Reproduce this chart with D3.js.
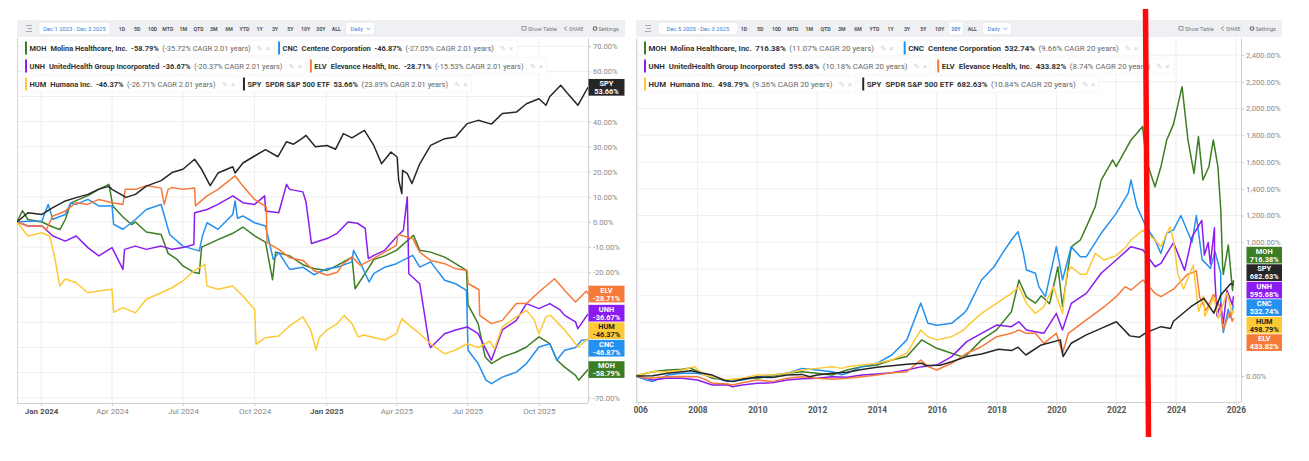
<!DOCTYPE html>
<html>
<head>
<meta charset="utf-8">
<script src="https://cdn.jsdelivr.net/npm/d3@7/dist/d3.min.js"></script>
<style>
  body { margin: 0; background: #fff; }
  svg { display: block; font-family: Roboto, "Noto Sans", sans-serif; }
</style>
</head>
<body>
<svg id="chart"></svg>
<script>
// ---------- data ----------
var tickers = ['MOH', 'CNC', 'UNH', 'ELV', 'HUM', 'SPY'];
var names = ['Molina Healthcare, Inc.', 'Centene Corporation', 'UnitedHealth Group Incorporated',
  'Elevance Health, Inc.', 'Humana Inc.', 'SPDR S&P 500 ETF'];

var shortTotals = [-58.79, -46.87, -36.67, -28.71, -46.37, 53.66];
var shortCagr = [-35.72, -27.05, -20.37, -15.53, -26.71, 23.89];
var longTotals = [716.38, 532.74, 595.68, 433.82, 498.79, 682.63];
var longCagr = [11.07, 9.66, 10.18, 8.74, 9.36, 10.84];

var shortXTicks = ['2024-01-01', '2024-04-01', '2024-07-01', '2024-10-01',
  '2025-01-01', '2025-04-01', '2025-07-01', '2025-10-01'];
var longXTicks = ['2006-01-01', '2008-01-01', '2010-01-01', '2012-01-01', '2014-01-01', '2016-01-01',
  '2018-01-01', '2020-01-01', '2022-01-01', '2024-01-01', '2026-01-01'];
var shortYTicks = [70, 60, 50, 40, 30, 20, 10, 0, -10, -20, -30, -40, -50, -60, -70];
var longYTicks = [0, 200, 400, 600, 800, 1000, 1200, 1400, 1600, 1800, 2000, 2200, 2400];
var rangeButtons = ['1D', '5D', '10D', 'MTD', '1M', 'QTD', '3M', '6M', 'YTD', '1Y', '3Y', '5Y', '10Y', '20Y', 'ALL'];

// 2 year window, % change since Dec 1 2023
var shortMOH = [['2023-12-01',0],['2023-12-08',4.5],['2023-12-15',1],['2024-01-02',0],['2024-01-16',-2],['2024-01-25',-3],
  ['2024-02-01',1],['2024-02-08',7.5],['2024-02-15',8.5],['2024-03-01',10.5],['2024-03-15',13],['2024-03-28',15],
  ['2024-04-02',6.4],['2024-04-15',2],['2024-04-26',-1],['2024-05-01',0],['2024-05-15',-4],['2024-06-03',-5],
  ['2024-06-12',-12.5],['2024-06-24',-15],['2024-07-01',-17.5],['2024-07-15',-20],['2024-07-22',-20.5],
  ['2024-07-25',-10],['2024-08-01',-9],['2024-08-15',-7],['2024-09-03',-4.5],['2024-09-16',-2],['2024-10-01',-5.5],
  ['2024-10-15',-8],['2024-10-24',-23],['2024-10-28',-12],['2024-11-15',-13.5],['2024-12-02',-17],['2024-12-16',-18.5],
  ['2025-01-02',-19.3],['2025-01-15',-17.3],['2025-02-03',-14],['2025-02-07',-26.6],['2025-02-21',-20],
  ['2025-03-03',-15],['2025-03-17',-13.5],['2025-04-01',-11.3],['2025-04-23',-5.3],['2025-05-01',-11.3],
  ['2025-05-15',-12],['2025-06-02',-14],['2025-06-16',-16.6],['2025-06-30',-19.3],['2025-07-02',-33],
  ['2025-07-15',-40.5],['2025-07-24',-53.8],['2025-08-01',-56.4],['2025-08-15',-53.8],['2025-09-02',-51.8],
  ['2025-09-15',-49.8],['2025-10-01',-45.8],['2025-10-15',-48.5],['2025-10-24',-55],['2025-11-03',-57.8],
  ['2025-11-17',-61.1],['2025-11-21',-63],['2025-12-03',-58.79]];
var shortCNC = [['2023-12-01',0],['2023-12-15',0.3],['2024-01-02',0.4],['2024-01-10',7],['2024-01-16',1.1],
  ['2024-02-01',3],['2024-02-08',7.6],['2024-02-15',7],['2024-03-01',9],['2024-03-15',6.4],['2024-04-01',6.4],
  ['2024-04-03',-0.9],['2024-04-15',-2.9],['2024-05-01',1],['2024-05-15',5],['2024-06-03',7],['2024-06-14',-5],
  ['2024-07-01',-9.6],['2024-07-15',-10.9],['2024-07-22',-11.5],['2024-07-26',-5.6],['2024-08-01',-0.3],
  ['2024-08-15',-2.9],['2024-09-03',3],['2024-09-06',8.4],['2024-09-09',1.5],['2024-09-16',2.4],['2024-10-01',-0.3],
  ['2024-10-15',-1.6],['2024-10-25',-14.9],['2024-11-01',-12.2],['2024-11-15',-18.9],['2024-12-02',-18],
  ['2024-12-16',-21],['2025-01-02',-18.6],['2025-01-15',-18],['2025-02-03',-15.9],['2025-02-05',-11.3],
  ['2025-02-14',-16.5],['2025-02-25',-23.9],['2025-03-03',-20.6],['2025-03-17',-18],['2025-04-01',-16.6],
  ['2025-04-22',-13.3],['2025-05-01',-18],['2025-05-15',-15.9],['2025-06-02',-23.2],['2025-06-16',-24.6],
  ['2025-06-30',-27.2],['2025-07-02',-51.1],['2025-07-15',-56.4],['2025-07-25',-63],['2025-08-01',-64.4],
  ['2025-08-15',-61.8],['2025-09-02',-59.8],['2025-09-15',-56.4],['2025-10-01',-49.8],['2025-10-15',-48.5],
  ['2025-10-24',-55],['2025-11-03',-51.1],['2025-11-17',-50],['2025-11-25',-47.1],['2025-12-03',-46.87]];
var shortUNH = [['2023-12-01',0],['2023-12-15',-1.6],['2024-01-02',-1.6],['2024-01-16',-5.6],['2024-02-01',-7.6],
  ['2024-02-15',-5.6],['2024-03-01',-10.2],['2024-03-15',-13.5],['2024-04-01',-10.2],['2024-04-15',-18.9],
  ['2024-04-17',-10.9],['2024-05-01',-9.6],['2024-05-15',-10.9],['2024-06-03',-9.6],['2024-06-17',-10.9],
  ['2024-07-01',-10.2],['2024-07-15',-9],['2024-07-16',3.7],['2024-08-01',5],['2024-08-15',7],['2024-09-03',10.4],
  ['2024-09-16',7.7],['2024-10-01',7],['2024-10-14',10.4],['2024-10-15',4.4],['2024-11-01',3.7],['2024-11-11',15],
  ['2024-11-15',13],['2024-12-02',12],['2024-12-06',8],['2024-12-13',-8.6],['2025-01-02',-6.6],['2025-01-15',-4.5],
  ['2025-01-29',0],['2025-02-10',-0.5],['2025-02-20',-2.5],['2025-02-24',-14.6],['2025-03-03',-13.3],
  ['2025-03-17',-11.3],['2025-04-01',-6],['2025-04-10',-3.3],['2025-04-15',10],['2025-04-17',-20.6],
  ['2025-05-01',-24.6],['2025-05-13',-48.5],['2025-05-15',-50],['2025-06-02',-44.5],['2025-06-16',-43],
  ['2025-07-01',-41.8],['2025-07-15',-44.5],['2025-08-01',-55.1],['2025-08-15',-43],['2025-09-02',-39.2],
  ['2025-09-15',-32.5],['2025-10-01',-34.5],['2025-10-15',-32.5],['2025-10-28',-35],['2025-11-03',-37.2],
  ['2025-11-17',-39.8],['2025-11-20',-42.5],['2025-12-03',-36.67]];
var shortELV = [['2023-12-01',0],['2023-12-15',-1.6],['2024-01-02',-1.6],['2024-01-08',-2.9],['2024-01-16',2.4],
  ['2024-01-24',3.3],['2024-02-01',4.4],['2024-02-15',7.7],['2024-03-01',7],['2024-03-15',9],['2024-04-01',7.7],
  ['2024-04-15',7],['2024-04-18',13],['2024-05-01',13],['2024-05-15',14.5],['2024-06-03',13.5],['2024-06-07',7],
  ['2024-06-12',13],['2024-06-17',13.7],['2024-07-01',13],['2024-07-16',13.5],['2024-07-17',6.4],['2024-08-01',10.4],
  ['2024-08-15',13],['2024-09-03',17.7],['2024-09-06',18.4],['2024-09-16',14.3],['2024-10-01',9],['2024-10-16',6],
  ['2024-10-17',-8.2],['2024-11-01',-10.9],['2024-11-15',-14.2],['2024-12-02',-15.3],['2024-12-16',-19.3],
  ['2025-01-02',-21.2],['2025-01-15',-20],['2025-01-23',-16.6],['2025-02-03',-14],['2025-02-14',-17.3],
  ['2025-03-03',-14.5],['2025-03-17',-12],['2025-04-01',-9.3],['2025-04-03',-5],['2025-04-22',-6.6],
  ['2025-05-01',-12],['2025-05-15',-15.3],['2025-06-02',-16.6],['2025-06-16',-18.6],['2025-07-01',-19.3],
  ['2025-07-02',-24.5],['2025-07-16',-27],['2025-07-17',-37.2],['2025-08-01',-40.5],['2025-08-15',-39.2],
  ['2025-09-02',-32.5],['2025-09-15',-32.5],['2025-10-01',-27.9],['2025-10-21',-22.6],['2025-11-03',-27.2],
  ['2025-11-17',-31.9],['2025-12-01',-27.5],['2025-12-03',-28.71]];
var shortHUM = [['2023-12-01',0],['2023-12-15',-5.6],['2024-01-02',-4.3],['2024-01-12',-5.6],['2024-01-18',-13.5],
  ['2024-01-25',-25.5],['2024-02-01',-22.7],['2024-02-15',-24.2],['2024-03-01',-28.2],['2024-03-15',-27.5],
  ['2024-04-01',-26.8],['2024-04-03',-36],['2024-04-15',-34.1],['2024-05-01',-36.2],['2024-05-15',-30.8],
  ['2024-06-03',-28.2],['2024-06-17',-26.2],['2024-07-01',-23.5],['2024-07-15',-19.5],['2024-07-29',-16.9],
  ['2024-08-01',-25.5],['2024-08-15',-26.8],['2024-09-03',-25.5],['2024-09-16',-29.5],['2024-10-01',-34.8],
  ['2024-10-03',-48.7],['2024-10-15',-46.1],['2024-11-01',-45.4],['2024-11-15',-41.4],['2024-12-02',-37.8],
  ['2024-12-12',-43],['2024-12-19',-51],['2024-12-23',-46],['2025-01-02',-43],['2025-01-15',-40.5],
  ['2025-01-24',-37.2],['2025-02-03',-40.5],['2025-02-11',-45.8],['2025-02-18',-45],['2025-03-03',-46],
  ['2025-03-17',-47],['2025-04-01',-44.5],['2025-04-08',-38.5],['2025-04-15',-40.5],['2025-05-01',-44.5],
  ['2025-05-15',-48.5],['2025-06-02',-52.5],['2025-06-16',-51],['2025-07-01',-48.5],['2025-07-15',-50],
  ['2025-07-30',-47.5],['2025-08-05',-50.5],['2025-08-15',-41.8],['2025-09-02',-37.8],['2025-09-15',-35.2],
  ['2025-09-25',-39],['2025-10-01',-44.5],['2025-10-10',-37.8],['2025-10-16',-37.2],['2025-11-03',-43],
  ['2025-11-17',-48.5],['2025-11-21',-49.8],['2025-12-03',-46.37]];
var shortSPY = [['2023-12-01',0],['2023-12-15',3.7],['2024-01-02',3],['2024-01-16',5.7],['2024-02-01',8.4],
  ['2024-02-15',9.7],['2024-03-01',11],['2024-03-15',13.1],['2024-03-28',14.2],['2024-04-01',13],['2024-04-19',9.8],
  ['2024-05-01',11],['2024-05-15',14.3],['2024-06-03',16.5],['2024-06-17',19.7],['2024-07-01',21],['2024-07-16',25],
  ['2024-07-25',21],['2024-08-05',14.5],['2024-08-15',19.5],['2024-09-03',22],['2024-09-06',19.5],['2024-09-16',23.5],
  ['2024-10-01',26.3],['2024-10-15',28.8],['2024-10-31',26],['2024-11-11',32],['2024-11-20',31],['2024-12-02',33.5],
  ['2024-12-06',34.5],['2024-12-18',30],['2025-01-02',30.5],['2025-01-13',29],['2025-01-23',35.2],['2025-02-03',33.5],
  ['2025-02-19',36.5],['2025-03-03',30.5],['2025-03-13',23.2],['2025-03-25',27.9],['2025-04-02',25.9],
  ['2025-04-04',16.6],['2025-04-08',11.3],['2025-04-09',20.6],['2025-04-15',19.3],['2025-04-21',15.3],
  ['2025-05-01',23.2],['2025-05-15',30.5],['2025-06-02',33.2],['2025-06-16',33.9],['2025-07-01',39.2],
  ['2025-07-15',40.5],['2025-08-01',39],['2025-08-15',43.2],['2025-09-02',43.8],['2025-09-15',47.1],
  ['2025-10-01',49.1],['2025-10-10',46.5],['2025-10-15',50],['2025-10-29',54.5],['2025-11-06',51.5],
  ['2025-11-20',46.5],['2025-12-03',53.66]];

// 20 year window, % change since Dec 5 2005
var longMOH = [['2005-12-05',0],['2006-07-01',32],['2007-01-01',45],['2007-07-01',50],['2007-10-01',60],
  ['2008-07-01',-17],['2009-01-01',-30],['2009-07-01',-20],['2010-01-01',-17],['2010-07-01',0],['2011-01-01',20],
  ['2011-07-01',32],['2012-01-01',20],['2012-07-01',7],['2013-01-01',45],['2013-07-01',70],['2014-01-01',82],
  ['2014-07-01',120],['2015-01-01',145],['2015-07-01',270],['2016-01-01',207],['2016-07-01',170],['2016-11-01',145],
  ['2017-01-01',157],['2017-07-01',270],['2018-01-01',345],['2018-07-01',480],['2018-10-01',718],['2019-01-01',590],
  ['2019-04-20',545],['2019-07-01',600],['2019-10-10',540],['2020-01-20',817],['2020-03-16',520],['2020-07-01',965],
  ['2020-10-20',1017],['2021-01-01',1115],['2021-04-20',1265],['2021-07-01',1465],['2021-11-20',1615],
  ['2022-01-01',1565],['2022-07-01',1765],['2022-11-20',1865],['2023-01-01',1615],['2023-04-20',1415],
  ['2023-07-01',1565],['2023-09-10',1765],['2023-12-01',1881],['2024-03-15',2163],['2024-05-26',1765],
  ['2024-08-08',1515],['2024-10-01',1790],['2024-11-25',1465],['2025-02-06',1565],['2025-04-01',1765],
  ['2025-05-27',1565],['2025-07-02',1230],['2025-07-24',810],['2025-08-01',760],['2025-10-01',980],
  ['2025-11-21',640],['2025-12-03',716.38]];
var longCNC = [['2005-12-05',0],['2006-04-20',-30],['2006-07-01',-42],['2007-01-01',7],['2007-07-01',20],
  ['2008-01-01',20],['2008-07-01',-5],['2009-01-01',-42],['2009-07-01',-30],['2010-01-01',-5],['2011-01-01',20],
  ['2011-07-01',57],['2012-01-01',45],['2012-07-01',32],['2012-10-25',10],['2013-01-01',20],['2013-07-01',70],
  ['2014-01-01',95],['2014-07-01',157],['2015-01-01',270],['2015-06-20',545],['2015-09-15',395],['2016-01-01',380],
  ['2016-07-01',394],['2016-11-25',468],['2017-01-01',493],['2017-07-01',718],['2017-12-01',817],['2018-03-14',917],
  ['2018-07-01',1017],['2018-09-20',1079],['2018-11-25',917],['2019-01-01',793],['2019-04-20',768],
  ['2019-06-01',668],['2019-08-20',593],['2020-01-01',967],['2020-03-16',718],['2020-07-01',967],['2020-10-20',892],
  ['2021-01-01',892],['2021-07-01',1067],['2022-01-01',1216],['2022-05-27',1366],['2022-07-01',1465],
  ['2022-09-10',1266],['2023-01-01',1116],['2023-04-20',1017],['2023-07-01',917],['2023-09-10',1067],
  ['2023-12-01',1091],['2024-03-01',1200],['2024-07-15',1000],['2024-09-06',1200],['2024-11-15',870],
  ['2025-02-25',805],['2025-04-22',930],['2025-06-30',770],['2025-07-02',480],['2025-08-01',325],
  ['2025-10-01',500],['2025-10-24',435],['2025-12-03',532.74]];
var longUNH = [['2005-12-05',0],['2006-04-20',-17],['2006-07-01',-30],['2007-01-01',-15],['2007-07-01',-17],
  ['2008-01-01',-30],['2008-07-01',-67],['2009-01-01',-65],['2009-03-06',-80],['2009-07-01',-67],['2010-01-01',-55],
  ['2010-07-01',-50],['2011-01-01',-30],['2011-07-01',-20],['2012-01-01',-17],['2012-07-01',-5],['2013-01-01',-10],
  ['2013-07-01',7],['2014-01-01',15],['2014-07-01',25],['2015-01-01',45],['2015-07-01',70],['2016-01-01',82],
  ['2016-07-01',145],['2017-01-01',257],['2017-07-01',319],['2018-01-01',381],['2018-07-01',369],['2018-10-01',406],
  ['2019-01-01',344],['2019-04-20',331],['2019-08-01',319],['2020-01-01',468],['2020-03-16',344],['2020-07-01',543],
  ['2021-01-01',618],['2021-07-01',768],['2022-01-01',867],['2022-07-01',967],['2022-11-25',942],['2023-04-20',817],
  ['2023-07-01',842],['2023-12-01',998],['2024-04-15',790],['2024-07-16',1040],['2024-11-11',1163],
  ['2024-12-13',904],['2025-01-29',998],['2025-02-24',838],['2025-04-15',1108],['2025-04-17',772],
  ['2025-05-15',449],['2025-07-01',540],['2025-08-01',393],['2025-09-15',641],['2025-11-20',531],['2025-12-03',595.68]];
var longELV = [['2005-12-05',0],['2006-04-20',-17],['2007-01-01',-5],['2007-07-01',-3],['2008-01-01',-5],
  ['2008-04-20',-30],['2008-07-01',-55],['2009-01-01',-60],['2009-03-06',-67],['2009-07-01',-50],['2010-01-01',-30],
  ['2010-07-01',-42],['2011-01-01',-17],['2011-07-01',-5],['2012-01-01',-17],['2012-07-01',-25],['2013-01-01',-17],
  ['2013-07-01',-5],['2014-01-01',7],['2014-07-01',25],['2015-01-01',32],['2015-06-20',120],['2015-09-15',70],
  ['2016-01-01',45],['2016-07-01',95],['2017-01-01',170],['2017-07-01',219],['2018-01-01',294],['2018-07-01',319],
  ['2018-10-01',344],['2019-01-01',319],['2019-04-20',319],['2019-08-01',244],['2020-01-01',319],['2020-03-16',170],
  ['2020-05-27',319],['2020-09-13',369],['2021-01-01',419],['2021-04-20',468],['2021-08-08',518],['2022-01-01',593],
  ['2022-04-20',668],['2022-07-01',643],['2022-11-25',718],['2023-04-20',618],['2023-07-01',593],['2023-12-01',649],
  ['2024-05-15',757],['2024-09-06',786],['2024-10-17',587],['2025-01-02',490],['2025-04-03',611],['2025-07-01',504],
  ['2025-08-01',345],['2025-10-21',480],['2025-11-17',410],['2025-12-03',433.82]];
var longHUM = [['2005-12-05',0],['2006-04-20',20],['2006-07-01',32],['2007-01-01',32],['2007-07-01',45],
  ['2007-11-25',70],['2008-03-14',7],['2008-07-01',-5],['2009-01-01',-30],['2009-07-01',-17],['2010-01-01',7],
  ['2010-07-01',7],['2011-01-01',20],['2011-07-01',45],['2012-01-01',57],['2012-07-01',70],['2012-11-01',57],
  ['2013-01-01',70],['2013-07-01',82],['2014-01-01',95],['2014-07-01',120],['2015-01-01',170],['2015-06-20',344],
  ['2015-09-15',294],['2016-01-01',270],['2016-07-01',294],['2016-11-25',344],['2017-01-01',369],['2017-07-01',468],
  ['2018-01-01',543],['2018-07-01',618],['2018-10-01',668],['2019-01-01',543],['2019-04-20',468],['2019-08-01',518],
  ['2019-11-25',668],['2020-03-16',468],['2020-05-08',768],['2020-07-01',817],['2020-10-20',760],['2021-01-01',760],
  ['2021-04-20',917],['2021-08-08',867],['2022-01-01',900],['2022-04-20',960],['2022-07-01',1017],['2022-11-25',1091],
  ['2023-04-20',1017],['2023-07-01',967],['2023-10-20',1116],['2023-12-01',1017],['2024-01-25',760],
  ['2024-04-03',650],['2024-07-29',828],['2024-10-03',480],['2024-12-02',594],['2024-12-19',447],['2025-04-08',587],
  ['2025-06-02',430],['2025-09-15',623],['2025-11-21',460],['2025-12-03',498.79]];
var longSPY = [['2005-12-05',0],['2006-07-01',2],['2007-01-01',20],['2007-07-01',32],['2007-10-09',40],
  ['2008-07-01',7],['2008-11-20',-32],['2009-03-09',-42],['2009-07-01',-25],['2010-01-01',-8],['2010-07-01',-12],
  ['2011-01-01',7],['2011-07-01',12],['2011-10-03',-5],['2012-01-01',8],['2012-07-01',20],['2013-01-01',28],
  ['2013-07-01',48],['2014-01-01',65],['2014-07-01',77],['2015-01-01',87],['2015-07-01',95],['2015-08-25',78],
  ['2016-02-11',80],['2016-07-01',107],['2017-01-01',145],['2017-07-01',165],['2018-01-26',200],['2018-07-01',190],
  ['2018-09-20',215],['2018-12-24',157],['2019-07-01',232],['2020-02-19',270],['2020-03-23',145],['2020-07-01',245],
  ['2021-01-01',307],['2021-07-01',356],['2022-01-03',406],['2022-06-16',300],['2022-10-12',290],['2023-01-01',324],
  ['2023-07-01',369],['2023-10-27',355],['2023-12-01',409],['2024-07-01',518],['2024-12-06',581],['2025-04-08',470],
  ['2025-07-01',605],['2025-10-29',690],['2025-12-03',682.63]];

// ---------- styles ----------
var colors = { MOH: '#3d7d24', CNC: '#2490ef', UNH: '#8a1cef', ELV: '#f67a3a', HUM: '#fdc936', SPY: '#262626' };
var labelText = { HUM: '#1e1e1e' };

var parse = d3.timeParse('%Y-%m-%d');
var W = 1309, H = 461;
var svg = d3.select('#chart').attr('width', W).attr('height', H);

var fmtShort = function(d) { return d.toFixed(2) + '%'; };
var fmtLong = function(d) { return d3.format(',.2f')(d) + '%'; };

var panels = [
  {
    id: 'short', left: 17, right: 625, plotRight: 588, top: 38, bottom: 403,
    x: d3.scaleTime().domain([parse('2023-12-01'), parse('2025-12-03')]).range([17, 588]),
    y: d3.scaleLinear().domain([-70, 70]).range([397.7, 46.3]),
    series: [shortMOH, shortCNC, shortUNH, shortELV, shortHUM, shortSPY],
    totals: shortTotals, cagr: shortCagr, span: '2.01 years', fmt: fmtShort,
    xTicks: shortXTicks, xFormat: d3.timeFormat('%b %Y'), yTicks: shortYTicks,
    range: 'Dec 1 2023 - Dec 3 2025', active: null, btn0: 122, btnStep: 15.3,
    tagX: 0.5, tagW: 36, legendFont: 7.45, legendGap: 27
  },
  {
    id: 'long', left: 636, right: 1282, plotRight: 1241, top: 38, bottom: 402,
    x: d3.scaleTime().domain([parse('2005-12-05'), parse('2026-03-05')]).range([635.5, 1241]),
    y: d3.scaleLinear().domain([0, 2400]).range([376, 55]),
    series: [longMOH, longCNC, longUNH, longELV, longHUM, longSPY],
    totals: longTotals, cagr: longCagr, span: '20 years', fmt: fmtLong,
    xTicks: longXTicks, xFormat: d3.timeFormat('%Y'), yTicks: longYTicks,
    range: 'Dec 5 2005 - Dec 3 2025', active: '20Y', btn0: 744, btnStep: 16.3,
    tagX: 5.5, tagW: 35.5, legendFont: 7.85, legendGap: 29.5
  }
];

panels.forEach(drawPanel);

function drawPanel(p) {
  var g = svg.append('g').attr('class', 'panel-' + p.id);

  g.append('clipPath').attr('id', 'clip-' + p.id)
    .append('rect').attr('x', p.left).attr('y', p.top).attr('width', p.plotRight - p.left).attr('height', p.bottom - p.top);
  g.append('clipPath').attr('id', 'panelclip-' + p.id)
    .append('rect').attr('x', p.left - 2).attr('y', 0).attr('width', p.right - p.left + 8).attr('height', H);

  var body = g.append('g').attr('clip-path', 'url(#panelclip-' + p.id + ')');

  // gridlines
  body.append('g').selectAll('line').data(p.yTicks).enter().append('line')
    .attr('x1', p.left).attr('x2', p.plotRight)
    .attr('y1', function(d) { return p.y(d); }).attr('y2', function(d) { return p.y(d); })
    .attr('stroke', '#eeeeee').attr('stroke-width', 1);
  body.append('g').selectAll('line').data(p.xTicks).enter().append('line')
    .attr('x1', function(d) { return p.x(parse(d)); }).attr('x2', function(d) { return p.x(parse(d)); })
    .attr('y1', p.top).attr('y2', p.bottom)
    .attr('stroke', '#eeeeee').attr('stroke-width', 1);

  // axis frame lines
  body.append('line').attr('x1', p.left + 0.5).attr('x2', p.left + 0.5).attr('y1', p.top).attr('y2', p.bottom)
    .attr('stroke', '#d8d8d8');
  body.append('line').attr('x1', p.left).attr('x2', p.plotRight).attr('y1', p.bottom + 0.5).attr('y2', p.bottom + 0.5)
    .attr('stroke', '#cfcfcf');
  body.append('line').attr('x1', p.plotRight + 0.5).attr('x2', p.plotRight + 0.5).attr('y1', p.top).attr('y2', p.bottom)
    .attr('stroke', '#cfcfcf');

  // x axis
  var xAxis = d3.axisBottom(p.x)
    .tickValues(p.xTicks.map(parse))
    .tickFormat(p.xFormat)
    .tickSize(3).tickPadding(2);
  var xg = body.append('g').attr('transform', 'translate(0,' + p.bottom + ')').call(xAxis);
  xg.select('.domain').remove();
  xg.selectAll('line').attr('stroke', '#cfcfcf');
  xg.selectAll('text')
    .attr('font-family', 'Roboto, sans-serif')
    .attr('font-size', p.id === 'short' ? 8 : 8.4)
    .attr('fill', function(d) { return (p.id === 'long' || d.getMonth() === 0) ? '#555' : '#888'; })
    .attr('font-weight', function(d) { return (p.id === 'long' || d.getMonth() === 0) ? 700 : 400; });

  // series lines
  var line = d3.line()
    .x(function(d) { return p.x(parse(d[0])); })
    .y(function(d) { return p.y(d[1]); });
  var lines = body.append('g').attr('clip-path', 'url(#clip-' + p.id + ')');
  p.series.forEach(function(s, i) {
    lines.append('path').datum(s)
      .attr('d', line)
      .attr('fill', 'none')
      .attr('stroke', colors[tickers[i]])
      .attr('stroke-width', 1.5)
      .attr('stroke-linejoin', 'round');
  });

  // end-of-line value tags, pushed apart where they collide
  var tagH = 17.5;
  var tags = p.series.map(function(s, i) {
    return { i: i, y: p.y(s[s.length - 1][1]) };
  });
  spreadTags(tags, tagH);

  // y axis on the right; labels hidden behind a tag are left out
  var covered = function(v) {
    var yy = p.y(v);
    return tags.some(function(t) { return Math.abs(yy - t.ly) < tagH / 2 + 3; });
  };
  var yAxis = d3.axisRight(p.y).tickValues(p.yTicks.filter(function(v) { return !covered(v); }))
    .tickFormat(p.fmt).tickSize(3).tickPadding(2);
  var yg = body.append('g').attr('transform', 'translate(' + p.plotRight + ',0)').call(yAxis);
  yg.select('.domain').remove();
  yg.selectAll('line').attr('stroke', '#cccccc');
  yg.selectAll('text').attr('font-family', 'Roboto, sans-serif').attr('font-size', 7.6).attr('fill', '#8a8a8a');

  var tg = body.append('g');
  tags.forEach(function(t) {
    var tk = tickers[t.i];
    var gg = tg.append('g').attr('transform', 'translate(' + (p.plotRight + p.tagX) + ',' + t.ly + ')');
    gg.append('rect').attr('x', 0).attr('y', -tagH / 2 + 0.4).attr('width', p.tagW).attr('height', tagH - 0.8)
      .attr('fill', colors[tk]);
    var txt = gg.append('text').attr('text-anchor', 'middle').attr('font-size', 7.4).attr('font-weight', 700)
      .attr('fill', labelText[tk] || '#fff');
    txt.append('tspan').attr('x', p.tagW / 2).attr('y', -1.3).text(tk);
    txt.append('tspan').attr('x', p.tagW / 2).attr('y', 6.6).text(p.fmt(p.totals[t.i]));
  });

  drawToolbar(g, p);
  drawLegend(g, p);
}

function spreadTags(tags, h) {
  tags.sort(function(a, b) { return a.y - b.y; });
  var groups = tags.map(function(t) { return { members: [t], y: t.y }; });
  var merged = true;
  while (merged) {
    merged = false;
    for (var k = 0; k < groups.length - 1; k++) {
      var a = groups[k], b = groups[k + 1];
      if (a.y + a.members.length * h / 2 > b.y - b.members.length * h / 2) {
        var members = a.members.concat(b.members);
        groups.splice(k, 2, { members: members, y: d3.mean(members, function(m) { return m.y; }) });
        merged = true;
        break;
      }
    }
  }
  groups.forEach(function(gr) {
    var top = gr.y - gr.members.length * h / 2;
    gr.members.forEach(function(m, j) { m.ly = top + j * h + h / 2; });
  });
}

function drawToolbar(g, p) {
  var tb = g.append('g');
  var y0 = 20, h = 17, cy = y0 + h / 2;
  tb.append('rect').attr('x', p.left).attr('y', y0).attr('width', p.right - p.left).attr('height', h)
    .attr('fill', '#eef0f3');

  // collapse icon
  var ix = p.left + 9;
  [-3, 0, 3].forEach(function(dy, k) {
    tb.append('line').attr('x1', ix + (k === 1 ? 1.5 : 0)).attr('x2', ix + 6).attr('y1', cy + dy).attr('y2', cy + dy)
      .attr('stroke', '#999').attr('stroke-width', 0.8);
  });

  // date range box
  var rx = p.left + 22, rw = p.id === 'short' ? 71 : 80;
  tb.append('rect').attr('x', rx).attr('y', y0 + 2.5).attr('width', rw).attr('height', h - 5)
    .attr('fill', '#fff').attr('stroke', '#dde2ea').attr('stroke-width', 0.6).attr('rx', 1.5);
  tb.append('text').attr('x', rx + rw / 2).attr('y', cy + 2).attr('text-anchor', 'middle')
    .attr('font-size', 5.8).attr('fill', '#3b7fd9').text(p.range);

  // range buttons
  rangeButtons.forEach(function(b, k) {
    var bx = p.btn0 + k * p.btnStep;
    if (b === p.active) {
      tb.append('rect').attr('x', bx - 6.5).attr('y', y0 + 2.5).attr('width', 13).attr('height', h - 5)
        .attr('fill', '#fff').attr('rx', 1.5);
    }
    tb.append('text').attr('x', bx).attr('y', cy + 2).attr('text-anchor', 'middle')
      .attr('font-size', 5.2).attr('font-weight', 700)
      .attr('fill', b === p.active ? '#3b7fd9' : '#555').text(b);
  });

  // interval dropdown
  var dx = p.btn0 + rangeButtons.length * p.btnStep - 6;
  tb.append('rect').attr('x', dx).attr('y', y0 + 2.5).attr('width', 29).attr('height', h - 5)
    .attr('fill', '#fff').attr('stroke', '#dde2ea').attr('stroke-width', 0.6).attr('rx', 1.5);
  tb.append('text').attr('x', dx + 5).attr('y', cy + 2).attr('font-size', 5.8).attr('fill', '#3b7fd9').text('Daily');
  tb.append('path').attr('d', 'M' + (dx + 21) + ',' + (cy - 0.8) + 'l2,2l2,-2')
    .attr('fill', 'none').attr('stroke', '#3b7fd9').attr('stroke-width', 0.7);

  // right hand actions
  var ax = p.right - 103;
  tb.append('rect').attr('x', ax).attr('y', cy - 2).attr('width', 4).attr('height', 3.6)
    .attr('fill', 'none').attr('stroke', '#777').attr('stroke-width', 0.7);
  tb.append('text').attr('x', ax + 6).attr('y', cy + 2).attr('font-size', 5.6).attr('fill', '#777').text('Show Table');
  tb.append('path').attr('d', 'M' + (ax + 45) + ',' + (cy - 2) + 'l-3,2l3,2')
    .attr('fill', 'none').attr('stroke', '#777').attr('stroke-width', 0.7);
  tb.append('text').attr('x', ax + 47).attr('y', cy + 2).attr('font-size', 4.6).attr('fill', '#777').text('SHARE');
  tb.append('circle').attr('cx', ax + 73).attr('cy', cy).attr('r', 1.8)
    .attr('fill', 'none').attr('stroke', '#666').attr('stroke-width', 1.1);
  tb.append('text').attr('x', ax + 76.5).attr('y', cy + 2).attr('font-size', 5.6).attr('fill', '#777').text('Settings');
}

function drawLegend(g, p) {
  var lg = g.append('g');
  var rowY = [48, 66, 84];
  var rows = [[0, 1], [2, 3], [4, 5]];
  var fs = p.legendFont;
  rows.forEach(function(pair, r) {
    var x = p.left + 8;
    pair.forEach(function(i) {
      var item = lg.append('g').attr('transform', 'translate(' + x + ',' + rowY[r] + ')');
      var bg = item.append('rect');
      item.append('rect').attr('x', 0).attr('y', -6.5).attr('width', 2).attr('height', 13)
        .attr('fill', colors[tickers[i]]);
      var t = item.append('text').attr('x', 4.5).attr('y', 2.7).attr('font-size', fs).attr('fill', '#333');
      t.append('tspan').attr('font-weight', 700).text(tickers[i]);
      t.append('tspan').attr('dx', 4).attr('font-weight', 700).text(names[i]);
      t.append('tspan').attr('dx', 3.5).attr('font-weight', 700).text(p.fmt(p.totals[i]));
      t.append('tspan').attr('dx', 3.5).attr('fill', '#666')
        .text('(' + p.fmt(p.cagr[i]) + ' CAGR ' + p.span + ')');
      var w = t.node().getBBox().width + 4.5;
      item.append('text').attr('x', w + 6).attr('y', 2.7).attr('font-size', fs - 0.4).attr('fill', '#d0d0d0')
        .attr('font-family', 'DejaVu Sans').text('\u270E');
      item.append('text').attr('x', w + 15).attr('y', 2.7).attr('font-size', fs).attr('fill', '#d0d0d0')
        .text('\u00D7');
      bg.attr('x', -2).attr('y', -8).attr('width', w + 25).attr('height', 16)
        .attr('fill', '#fff').attr('fill-opacity', 0.92).attr('stroke', '#f0f0f0').attr('stroke-width', 0.6);
      x += w + p.legendGap;
    });
  });
}

// red marker stroke drawn over the 20 year panel
svg.append('line').attr('x1', 1145.5).attr('y1', 9).attr('x2', 1148.5).attr('y2', 437)
  .attr('stroke', '#ff0a0a').attr('stroke-width', 5.5);
</script>
</body>
</html>
